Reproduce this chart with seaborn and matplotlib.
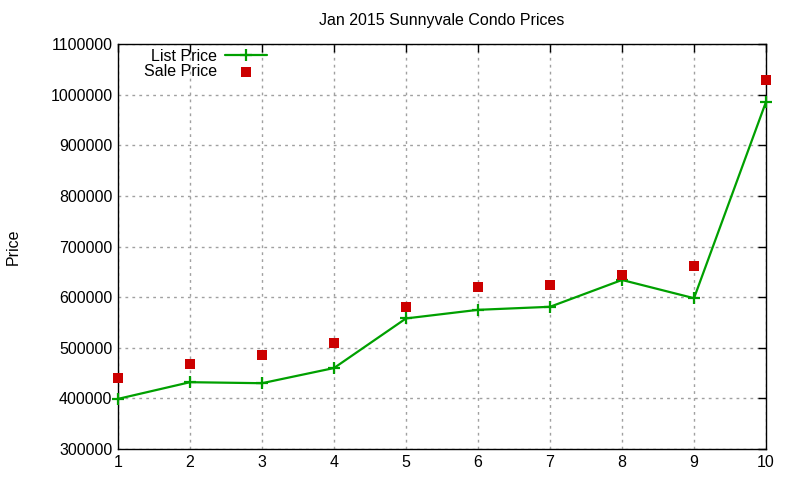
import pandas as pd
import matplotlib
matplotlib.use("Agg")
import matplotlib.pyplot as plt
import seaborn as sns

# data
units = [1, 2, 3, 4, 5, 6, 7, 8, 9, 10]
list_price = [399000, 432000, 430000, 460000, 558000, 575000, 581000, 634000, 598000, 986000]
sale_price = [441000, 468500, 486000, 509500, 581000, 620500, 624500, 644000, 662000, 1030000]
y_ticks = [300000, 400000, 500000, 600000, 700000, 800000, 900000, 1000000, 1100000]


def make_plot():
    sns.set_style("white")
    plt.rcParams['font.family'] = ['Liberation Sans', 'DejaVu Sans']
    plt.rcParams['text.color'] = 'black'
    plt.rcParams['axes.labelcolor'] = 'black'
    plt.rcParams['xtick.color'] = 'black'
    plt.rcParams['ytick.color'] = 'black'

    df = pd.DataFrame({"unit": units, "list": list_price, "sale": sale_price})

    fig = plt.figure(figsize=(8, 4.8), dpi=100)
    ax = fig.add_axes([0.1475, 0.0646, 0.81, 0.8434])

    green = "#00a000"
    sns.lineplot(data=df, x="unit", y="list", ax=ax, color=green, lw=1.6,
                 marker="+", markersize=9, markeredgewidth=1.6,
                 markeredgecolor=green, label="List Price", clip_on=False, zorder=3)
    sns.scatterplot(data=df, x="unit", y="sale", ax=ax, color="#cc0000", marker="s",
                    s=52, linewidth=0, label="Sale Price", zorder=4, clip_on=False)

    ax.set_xlim(1, 10)
    ax.set_ylim(300000, 1100000)
    ax.set_xticks(units)
    ax.set_yticks(y_ticks)
    ax.set_yticklabels([str(v) for v in y_ticks])
    ax.tick_params(direction="in", length=6, width=1, labelsize=11.5,
                   top=True, right=True, pad=4, color="black")
    ax.grid(True, color="#a0a0a0", linestyle=(0, (2, 3)), linewidth=1)
    for s in ax.spines.values():
        s.set_color("black")
        s.set_linewidth(1)

    ax.set_xlabel("")
    ax.set_ylabel("Price", fontsize=11.5, labelpad=21)
    ax.set_title("Jan 2015 Sunnyvale Condo Prices", fontsize=11.5, pad=14)

    ax.legend(loc="upper right", frameon=False, markerfirst=False, fontsize=11.5,
              handlelength=2.6, handletextpad=0.5, borderpad=0, borderaxespad=0,
              labelspacing=0.0,
              bbox_to_anchor=(267 / 800, 1 - 49 / 480), bbox_transform=fig.transFigure)

    fig.savefig("out.png", dpi=100)
    plt.close(fig)


if __name__ == "__main__":
    make_plot()
